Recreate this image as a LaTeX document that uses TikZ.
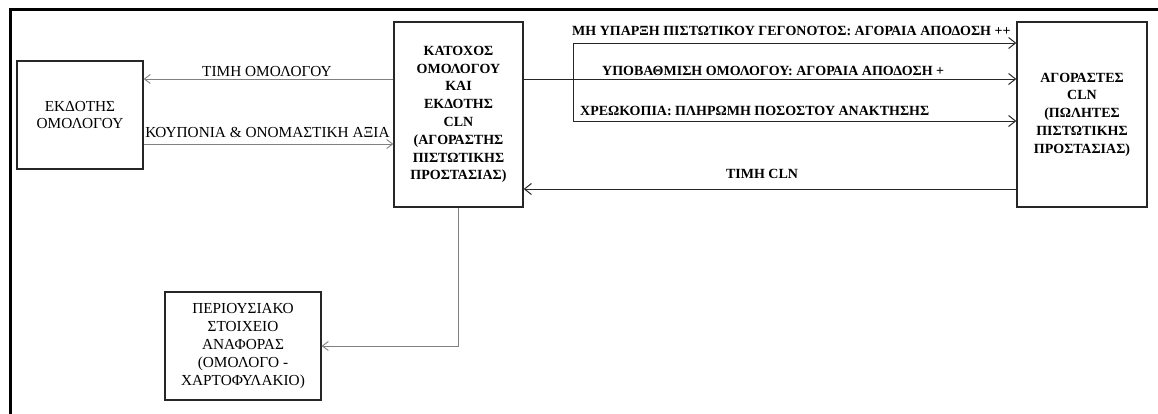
\documentclass[tikz,border=0pt]{standalone}
\usepackage{fontspec}
\setmainfont{Liberation Serif}
\usetikzlibrary{arrows.meta}
\begin{document}
\begin{tikzpicture}[x=1pt,y=-1pt,
  box/.style={draw=black!85,line width=1.3pt,inner sep=0pt,align=center,font=\fontsize{15.3}{16.5}\selectfont},
  boldbox/.style={box,font=\fontsize{14}{17.8}\selectfont\bfseries},
  greyarrow/.style={draw=black!50,line width=0.9pt,-{Straight Barb[length=6pt,width=9pt,line width=0.9pt]}},
  darkarrow/.style={draw=black!85,line width=1pt,-{Straight Barb[length=7pt,width=11pt,line width=1pt]}},
  greyline/.style={draw=black!50,line width=0.9pt},
  darkline/.style={draw=black!85,line width=1pt},
  lab/.style={anchor=base,inner sep=0pt,font=\fontsize{15.3}{17}\selectfont},
  blab/.style={anchor=base,inner sep=0pt,font=\fontsize{14}{17}\selectfont\bfseries}]
\useasboundingbox (0,0) rectangle (1158,413);
% outer frame (top and left)
\draw[line width=3.5pt,line cap=rect] (1160,9.5) -- (10.5,9.5) -- (10.5,415);
% boxes
\node[box,minimum width=126pt,minimum height=108pt] (issuer) at (80,115) {ΕΚΔΟΤΗΣ\\ΟΜΟΛΟΓΟΥ};
\node[boldbox,minimum width=129pt,minimum height=185pt] (holder) at (458.5,114.5) {ΚΑΤΟΧΟΣ\\ΟΜΟΛΟΓΟΥ\\ΚΑΙ\\ΕΚΔΟΤΗΣ\\CLN\\(ΑΓΟΡΑΣΤΗΣ\\ΠΙΣΤΩΤΙΚΗΣ\\ΠΡΟΣΤΑΣΙΑΣ)};
\node[boldbox,minimum width=130pt,minimum height=185pt] (buyers) at (1082,114.5) {ΑΓΟΡΑΣΤΕΣ\\CLN\\(ΠΩΛΗΤΕΣ\\ΠΙΣΤΩΤΙΚΗΣ\\ΠΡΟΣΤΑΣΙΑΣ)};
\node[box,font=\fontsize{15.3}{18}\selectfont,minimum width=156pt,minimum height=108pt] (asset) at (243,346) {ΠΕΡΙΟΥΣΙΑΚΟ\\ΣΤΟΙΧΕΙΟ\\ΑΝΑΦΟΡΑΣ\\(ΟΜΟΛΟΓΟ -\\ΧΑΡΤΟΦΥΛΑΚΙΟ)};
% left connectors
\draw[greyarrow] (holder.west |- 0,79) -- (issuer.east |- 0,79);
\draw[greyarrow] (issuer.east |- 0,144) -- (holder.west |- 0,144);
\node[lab] (l1) at (267,76) {ΤΙΜΗ ΟΜΟΛΟΓΟΥ};
\node[lab] (l2) at (267.5,137) {ΚΟΥΠΟΝΙΑ \& ΟΝΟΜΑΣΤΙΚΗ ΑΞΙΑ};
% right connectors
\coordinate (btop) at (573,43);
\coordinate (bbot) at (573,121);
\draw[darkarrow] (holder.east |- 0,79) -- (buyers.west |- 0,79);
\draw[darkline] (btop) -- (bbot);
\draw[darkarrow] (btop) -- (buyers.west |- btop);
\draw[darkarrow] (bbot) -- (buyers.west |- bbot);
\draw[darkarrow] (buyers.west |- 0,189) -- (holder.east |- 0,189);
\node[blab,anchor=base west] (r1) at (572,35) {ΜΗ ΥΠΑΡΞΗ ΠΙΣΤΩΤΙΚΟΥ ΓΕΓΟΝΟΤΟΣ: ΑΓΟΡΑΙΑ ΑΠΟΔΟΣΗ ++};
\node[blab,anchor=base west] (r2) at (602,75) {ΥΠΟΒΑΘΜΙΣΗ ΟΜΟΛΟΓΟΥ: ΑΓΟΡΑΙΑ ΑΠΟΔΟΣΗ +};
\node[blab,anchor=base west] (r3) at (580,115) {ΧΡΕΩΚΟΠΙΑ: ΠΛΗΡΩΜΗ ΠΟΣΟΣΤΟΥ ΑΝΑΚΤΗΣΗΣ};
\node[blab] (r4) at (762,178) {ΤΙΜΗ CLN};
% down to asset
\coordinate (bend) at (holder.south |- asset.east);
\draw[greyline] (holder.south) -- (bend);
\draw[greyarrow] (bend) -- (asset.east);
\end{tikzpicture}
\end{document}
